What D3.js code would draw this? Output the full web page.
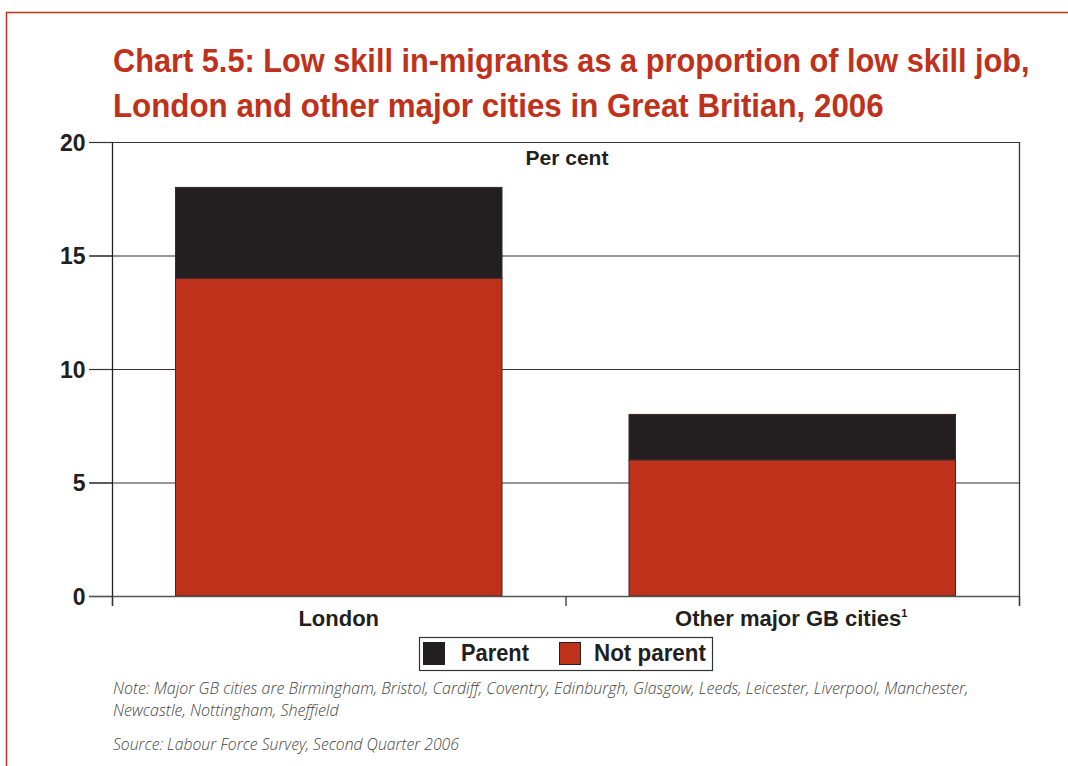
<!DOCTYPE html>
<html>
<head>
<meta charset="utf-8">
<script src="https://cdn.jsdelivr.net/npm/d3@7"></script>
<style>
  html, body { margin: 0; padding: 0; background: #fff; }
  svg { display: block; }
</style>
</head>
<body>
<script>
// Chart data
const categories = ["London", "Other major GB cities"];
const notParent = [14, 6];
const parent = [4, 2];
const seriesNames = ["Parent", "Not parent"];
const yTicks = [0, 5, 10, 15, 20];

const W = 1068, H = 766;
const RED = "#c0311c", BLACK = "#231f20";
const NARROW = "'Liberation Sans Narrow', 'Liberation Sans', sans-serif";
const NOTE_FONT = "'Open Sans', 'Noto Sans', sans-serif";

const svg = d3.select("body").append("svg").attr("width", W).attr("height", H);

// Scale a text horizontally so it spans the given width from its left edge
function fitWidth(sel, x0, baseY, width) {
  sel.attr("x", 0).attr("y", 0);
  const len = sel.node().getComputedTextLength();
  const s = width / len;
  sel.attr("transform", `translate(${x0},${baseY}) scale(${s},1)`);
}

// Frame
svg.append("path")
  .attr("d", `M6.5,${H} V12.5 H${W}`)
  .attr("fill", "none").attr("stroke", RED).attr("stroke-width", 1.5);

// Title
const titleLines = [
  { text: "Chart 5.5: Low skill in-migrants as a proportion of low skill job,", y: 72, w: 917 },
  { text: "London and other major cities in Great Britian, 2006", y: 117, w: 771 }
];
titleLines.forEach(d => {
  const t = svg.append("text")
    .attr("font-family", NARROW).attr("font-weight", "bold").attr("font-size", 33)
    .attr("fill", RED).text(d.text);
  fitWidth(t, 113, d.y, d.w);
});

// Plot area
const m = { left: 112, right: 1019, top: 142, bottom: 596 };
const x = d3.scaleBand().domain(categories).range([m.left, m.right]).paddingInner(0.28).paddingOuter(0.14);
const y = d3.scaleLinear().domain([0, 20]).range([m.bottom, m.top]);

// Gridlines
svg.append("g").selectAll("line").data(yTicks.filter(t => t > 0)).enter().append("line")
  .attr("x1", 89).attr("x2", m.right)
  .attr("y1", d => y(d) + 0.5).attr("y2", d => y(d) + 0.5)
  .attr("stroke", "#333").attr("stroke-width", 1.2);

// Right border
svg.append("line").attr("x1", m.right + 0.5).attr("x2", m.right + 0.5)
  .attr("y1", m.top).attr("y2", m.bottom + 10)
  .attr("stroke", "#333").attr("stroke-width", 1.3);

// Y axis
const yAxis = d3.axisLeft(y).tickValues(yTicks).tickSize(23).tickPadding(4).tickFormat(d3.format("d"));
const gy = svg.append("g").attr("transform", `translate(${m.left + 0.5},0)`).call(yAxis);
gy.select(".domain").remove();
gy.selectAll(".tick line").attr("stroke", "#333").attr("stroke-width", 1.2);
gy.selectAll(".tick text")
  .attr("font-family", NARROW).attr("font-weight", "bold").attr("font-size", 23)
  .attr("fill", BLACK).attr("dy", "0.36em");
svg.append("line").attr("x1", m.left + 0.5).attr("x2", m.left + 0.5)
  .attr("y1", m.top).attr("y2", m.bottom + 10)
  .attr("stroke", "#222").attr("stroke-width", 1.3);

// Stacked bars
const rows = categories.map((c, i) => ({ cat: c, "Not parent": notParent[i], "Parent": parent[i] }));
const stack = d3.stack().keys(["Not parent", "Parent"])(rows);
const colour = d3.scaleOrdinal().domain(seriesNames).range([BLACK, RED]);

svg.append("g").selectAll("g").data(stack).enter().append("g")
  .attr("fill", d => colour(d.key))
  .selectAll("rect").data(d => d).enter().append("rect")
  .attr("x", d => x(d.data.cat))
  .attr("width", x.bandwidth())
  .attr("y", d => y(d[1]))
  .attr("height", d => y(d[0]) - y(d[1]))
  .attr("stroke", "#3a2a26").attr("stroke-width", 1);

// X axis baseline and ticks
svg.append("line").attr("x1", 89).attr("x2", m.right)
  .attr("y1", m.bottom + 0.5).attr("y2", m.bottom + 0.5)
  .attr("stroke", "#555").attr("stroke-width", 1.5);
const xTicks = [m.left, (m.left + m.right) / 2, m.right];
svg.append("g").selectAll("line").data(xTicks).enter().append("line")
  .attr("x1", d => d + 0.5).attr("x2", d => d + 0.5)
  .attr("y1", m.bottom).attr("y2", m.bottom + 10)
  .attr("stroke", "#333").attr("stroke-width", 1.3);

// Category labels
const catLab = svg.append("g").selectAll("text").data(categories).enter().append("text")
  .attr("x", (d, i) => x(d) + x.bandwidth() / 2 + (i === 1 ? -1 : 0))
  .attr("y", 626)
  .attr("text-anchor", "middle")
  .attr("font-family", NARROW).attr("font-weight", "bold").attr("font-size", 22)
  .attr("fill", BLACK)
  .text(d => d);
catLab.filter((d, i) => i === 1).append("tspan")
  .attr("dy", -9).attr("font-size", 11).text("1");

// "Per cent" unit label
svg.append("text").attr("x", 567).attr("y", 165).attr("text-anchor", "middle")
  .attr("font-family", NARROW).attr("font-weight", "bold").attr("font-size", 21)
  .attr("fill", BLACK).text("Per cent");

// Legend
const lg = svg.append("g");
lg.append("rect").attr("x", 419.5).attr("y", 637.5).attr("width", 293).attr("height", 33)
  .attr("fill", "#fff").attr("stroke", "#333").attr("stroke-width", 1.2);
const legendItems = [
  { name: "Parent", sx: 423, tx: 461, w: 68 },
  { name: "Not parent", sx: 559, tx: 594, w: 112 }
];
legendItems.forEach(it => {
  lg.append("rect").attr("x", it.sx + 0.5).attr("y", 642.5).attr("width", 21).attr("height", 22)
    .attr("fill", colour(it.name)).attr("stroke", "#222").attr("stroke-width", 1);
  const t = lg.append("text")
    .attr("font-family", NARROW).attr("font-weight", "bold").attr("font-size", 23)
    .attr("fill", BLACK).text(it.name);
  fitWidth(t, it.tx, 661, it.w);
});

// Notes
const notes = [
  { t: "Note: Major GB cities are Birmingham, Bristol, Cardiff, Coventry, Edinburgh, Glasgow, Leeds, Leicester, Liverpool, Manchester,", y: 694, w: 856 },
  { t: "Newcastle, Nottingham, Sheffield", y: 716, w: 226 },
  { t: "Source: Labour Force Survey, Second Quarter 2006", y: 750, w: 346 }
];
notes.forEach(d => {
  const t = svg.append("text")
    .attr("font-family", NOTE_FONT).attr("font-style", "italic").attr("font-weight", 300)
    .attr("font-size", 15.5).attr("fill", "#444").text(d.t);
  fitWidth(t, 113, d.y, d.w);
});
</script>
</body>
</html>
